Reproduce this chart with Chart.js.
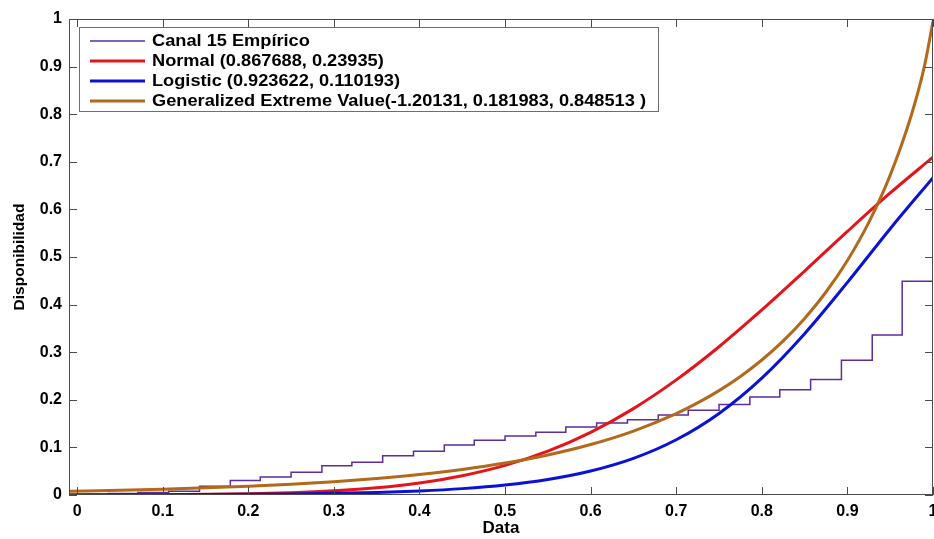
<!DOCTYPE html>
<html>
<head>
<meta charset="utf-8">
<script src="https://cdn.jsdelivr.net/npm/chart.js@4.4.1/dist/chart.umd.min.js"></script>
<style>
  html, body { margin: 0; padding: 0; background: #fff; }
</style>
</head>
<body>
<canvas id="myChart" width="934" height="539"></canvas>
<script>
// empirical CDF (stairs), value holds from each x onwards
const empX = [0, 0.036, 0.071, 0.107, 0.143, 0.179, 0.214, 0.25, 0.286, 0.321, 0.357, 0.393, 0.429, 0.464,
  0.5, 0.536, 0.571, 0.607, 0.643, 0.679, 0.714, 0.75, 0.786, 0.821, 0.857, 0.893, 0.929, 0.964, 1];
const empY = [0, 0.003, 0.005, 0.008, 0.0185, 0.0305, 0.038, 0.048, 0.0615, 0.069, 0.0825, 0.092, 0.105, 0.115,
  0.124, 0.132, 0.143, 0.151, 0.158, 0.168, 0.178, 0.19, 0.206, 0.221, 0.2425, 0.283, 0.336, 0.449, 0.449];

// fitted curves
const fitX = [-0.0095, 0.05, 0.1, 0.15, 0.2, 0.25, 0.3, 0.35, 0.4, 0.45, 0.5, 0.55, 0.6, 0.65, 0.7,
  0.75, 0.8, 0.85, 0.9, 0.95, 1];
const normalY = [0.0001, 0.0003, 0.0007, 0.0014, 0.0026, 0.0049, 0.0089, 0.0153, 0.0254, 0.0405, 0.0622,
  0.0922, 0.1317, 0.1815, 0.2418, 0.3115, 0.3887, 0.4705, 0.5537, 0.6345, 0.7098];
const logisticY = [0.0002, 0.0004, 0.0006, 0.0009, 0.0014, 0.0022, 0.0035, 0.0055, 0.0086, 0.0134, 0.0209,
  0.0326, 0.0504, 0.077, 0.1161, 0.1714, 0.2456, 0.3389, 0.4466, 0.5595, 0.6666];
const gevX = [-0.0095, 0.05, 0.1, 0.15, 0.2, 0.25, 0.3, 0.35, 0.4, 0.45, 0.5, 0.55, 0.6, 0.65, 0.7,
  0.725, 0.75, 0.775, 0.8, 0.825, 0.85, 0.875, 0.9, 0.925, 0.95, 0.975, 0.99, 1];
const gevY = [0.0078, 0.0099, 0.0122, 0.015, 0.0184, 0.0227, 0.028, 0.0347, 0.0431, 0.0537, 0.0671,
  0.0841, 0.106, 0.1343, 0.171, 0.1934, 0.2193, 0.2491, 0.2836, 0.3238, 0.3709, 0.4265, 0.4928, 0.5729,
  0.6721, 0.8, 0.9011, 0.995];

const seriesNames = [
  'Canal 15 Empírico',
  'Normal (0.867688, 0.23935)',
  'Logistic (0.923622, 0.110193)',
  'Generalized Extreme Value(-1.20131, 0.181983, 0.848513 )'
];
const tickVals = [0, 0.1, 0.2, 0.3, 0.4, 0.5, 0.6, 0.7, 0.8, 0.9, 1];

const pts = (xs, ys) => xs.map((v, i) => ({x: v, y: ys[i]}));
const fam = 'Liberation Sans, Arial, sans-serif';
const tickFont = {family: fam, size: 16, weight: 'bold'};

// axes box, inward ticks and legend drawn matlab style
const matlabBox = {
  id: 'matlabBox',
  afterDraw(chart) {
    const {ctx, chartArea: a, scales: {x, y}} = chart;
    ctx.save();
    ctx.strokeStyle = '#4a4a4a';
    ctx.lineWidth = 1;
    ctx.strokeRect(a.left + 0.5, a.top + 0.5, a.width - 1, a.height - 1);
    ctx.beginPath();
    x.ticks.forEach(t => {
      const px = Math.round(x.getPixelForValue(t.value)) + 0.5;
      ctx.moveTo(px, a.bottom); ctx.lineTo(px, a.bottom - 8);
      ctx.moveTo(px, a.top); ctx.lineTo(px, a.top + 8);
    });
    y.ticks.forEach(t => {
      const py = Math.round(y.getPixelForValue(t.value)) + 0.5;
      ctx.moveTo(a.left, py); ctx.lineTo(a.left + 8, py);
      ctx.moveTo(a.right, py); ctx.lineTo(a.right - 8, py);
    });
    ctx.stroke();

    // legend
    const lx = 79, ly = 27, lw = 579, lh = 84;
    ctx.fillStyle = '#fff';
    ctx.fillRect(lx, ly, lw, lh);
    ctx.strokeStyle = '#6e6e6e';
    ctx.strokeRect(lx + 0.5, ly + 0.5, lw, lh);
    ctx.font = 'bold 16px "Liberation Sans", Arial, sans-serif';
    ctx.textBaseline = 'middle';
    ctx.textAlign = 'left';
    const longest = Math.max(...chart.data.datasets.map(ds => ctx.measureText(ds.label).width));
    const sx = 494 / longest;
    chart.data.datasets.forEach((ds, i) => {
      const ry = 41 + i * 20;
      ctx.strokeStyle = ds.borderColor;
      ctx.lineWidth = i === 0 ? 1.5 : 3;
      ctx.beginPath();
      ctx.moveTo(90, ry); ctx.lineTo(145, ry);
      ctx.stroke();
      ctx.save();
      ctx.translate(152, ry + 1);
      ctx.scale(sx, 1);
      ctx.fillStyle = '#000';
      ctx.fillText(ds.label, 0, 0);
      ctx.restore();
    });
    ctx.restore();
  }
};

const config = {
  type: 'line',
  data: {
    datasets: [{
      label: seriesNames[0],
      data: pts(empX, empY),
      borderColor: '#5b2d9e',
      borderWidth: 1.5,
      stepped: 'before',
      pointRadius: 0,
      order: 4
    }, {
      label: seriesNames[1],
      data: pts(fitX, normalY),
      borderColor: '#e5141b',
      borderWidth: 3,
      cubicInterpolationMode: 'monotone',
      pointRadius: 0,
      order: 3
    }, {
      label: seriesNames[2],
      data: pts(fitX, logisticY),
      borderColor: '#0a12d4',
      borderWidth: 3,
      cubicInterpolationMode: 'monotone',
      pointRadius: 0,
      order: 2
    }, {
      label: seriesNames[3],
      data: pts(gevX, gevY),
      borderColor: '#b2691c',
      borderWidth: 3,
      cubicInterpolationMode: 'monotone',
      pointRadius: 0,
      order: 1
    }]
  },
  options: {
    responsive: false,
    animation: false,
    layout: {padding: {top: 19, right: 1, left: 0, bottom: 0}},
    plugins: {legend: {display: false}, tooltip: {enabled: false}},
    scales: {
      x: {
        type: 'linear',
        min: -0.0095,
        max: 1,
        grid: {display: false, drawTicks: false},
        border: {display: false},
        afterBuildTicks: s => { s.ticks = tickVals.map(v => ({value: v})); },
        ticks: {color: '#000', font: tickFont, padding: 7, maxRotation: 0, autoSkip: false,
          callback: v => String(v)},
        title: {display: true, text: 'Data', color: '#000', font: {family: fam, size: 17, weight: 'bold'},
          padding: {top: 0, bottom: 0}},
        afterFit: s => { s.height = 44; s.paddingLeft = 0; s.paddingRight = 0; }
      },
      y: {
        min: 0,
        max: 1,
        grid: {display: false, drawTicks: false},
        border: {display: false},
        afterBuildTicks: s => { s.ticks = tickVals.map(v => ({value: v})); },
        ticks: {color: '#000', font: tickFont, padding: 7, autoSkip: false,
          callback: v => String(v)},
        title: {display: true, text: 'Disponibilidad', color: '#000',
          font: {family: fam, size: 15.5, weight: 'bold'},
          padding: {top: 10, bottom: 0}},
        afterFit: s => { s.width = 69; s.paddingTop = 0; s.paddingBottom = 0; }
      }
    }
  },
  plugins: [matlabBox]
};

const myChart = new Chart(document.getElementById('myChart'), config);
</script>
</body>
</html>
